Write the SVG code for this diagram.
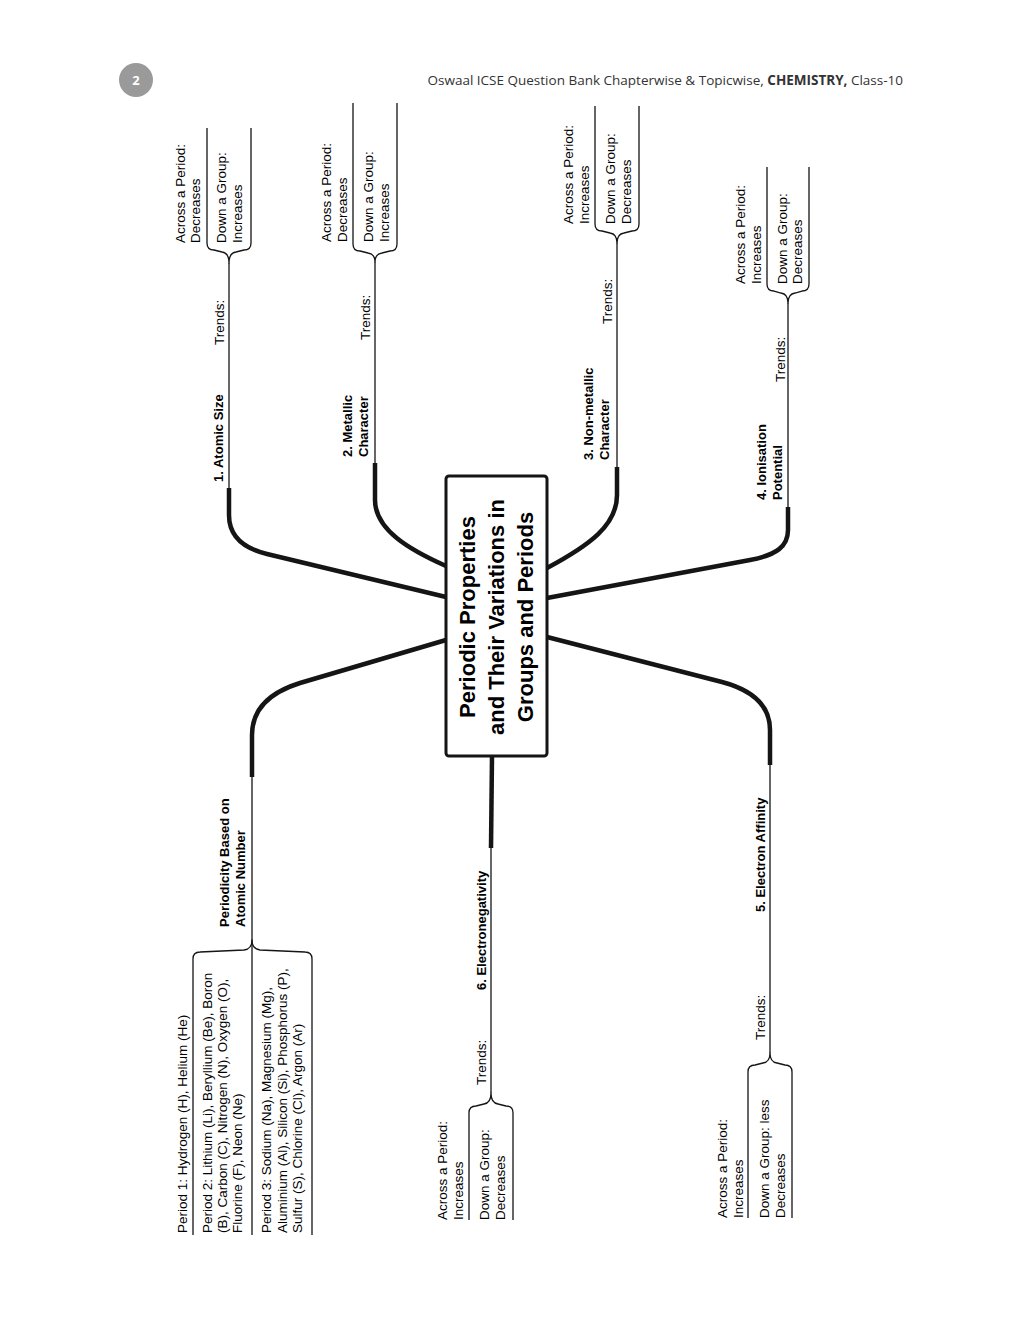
<svg xmlns="http://www.w3.org/2000/svg" width="1024" height="1325" viewBox="0 0 1024 1325">
<style>
.t{font-family:"Liberation Sans",Arial,sans-serif;font-size:13.5px;fill:#000}
.b{font-family:"Liberation Sans",Arial,sans-serif;font-size:13px;font-weight:bold;fill:#000}
.c{font-family:"Liberation Sans",Arial,sans-serif;font-size:22px;font-weight:bold;fill:#000;text-anchor:middle}
.thick{fill:none;stroke:#151515;stroke-width:4.5;stroke-linecap:butt;stroke-linejoin:round}
.thin{fill:none;stroke:#151515;stroke-width:1.3}
.br{fill:none;stroke:#151515;stroke-width:1.3;stroke-linejoin:round}
.hd{font-family:"Open Sans","Noto Sans",sans-serif;font-size:13.5px;fill:#333}
</style>
<rect width="1024" height="1325" fill="#fff"/>
<g id="header">
<circle cx="136" cy="80" r="17" fill="#9a9a9a"/>
<text x="136" y="85" font-family="Open Sans, sans-serif" font-size="13" font-weight="bold" fill="#fff" text-anchor="middle">2</text>
<text class="hd" x="903" y="85" text-anchor="end">Oswaal ICSE Question Bank Chapterwise &amp; Topicwise, <tspan font-weight="bold">CHEMISTRY,</tspan> Class-10</text>
</g>
<g id="connectors">
<path class="thick" d="M446,597 L267,554 C242,548 229,535 229,515 V488"/>
<path class="thin" d="M229,488 V263"/>
<path class="thick" d="M446,566 C410,550 375,530 375,500 V463"/>
<path class="thin" d="M375,463 V262"/>
<path class="thick" d="M547,568 C590,545 617,525 617,495 V467"/>
<path class="thin" d="M617,467 V243"/>
<path class="thick" d="M547,598 L750,560 C777,555 788,546 788,530 V507"/>
<path class="thin" d="M788,507 V303"/>
<path class="thick" d="M547,637 L722,682 C752,690 770,705 770,730 V765"/>
<path class="thin" d="M770,765 V1053"/>
<path class="thick" d="M492,756 L491,848"/>
<path class="thin" d="M491,848 V1093"/>
<path class="thick" d="M446,640 L300,683 C268,693 252,710 252,735 V777"/>
<path class="thin" d="M252,777 V1235"/>
</g>
<g id="center">
<rect x="446" y="476" width="101" height="280" rx="3" fill="#fff" stroke="#151515" stroke-width="3"/>
<text class="c" x="475" y="617" transform="rotate(-90 475 617)">Periodic Properties</text>
<text class="c" x="504" y="617" transform="rotate(-90 504 617)">and Their Variations in</text>
<text class="c" x="533" y="617" transform="rotate(-90 533 617)">Groups and Periods</text>
</g>
<g id="atomic-size">
<path class="br" d="M207,128 V243 Q207,250 214,250 L222,252 Q229,253 229,263 Q229,253 236,252 L244,250 Q251,250 251,243 V128"/>
<text class="b" x="223" y="482" transform="rotate(-90 223 482)">1. Atomic Size</text>
<text class="t" x="224" y="345" transform="rotate(-90 224 345)">Trends:</text>
<text class="t" x="185" y="243" transform="rotate(-90 185 243)">Across a Period:</text>
<text class="t" x="200" y="243" transform="rotate(-90 200 243)">Decreases</text>
<text class="t" x="226" y="243" transform="rotate(-90 226 243)">Down a Group:</text>
<text class="t" x="242" y="243" transform="rotate(-90 242 243)">Increases</text>
</g>
<g id="metallic">
<path class="br" d="M353,103 V244 Q353,251 360,251 L368,253 Q375,254 375,262 Q375,254 382,253 L390,251 Q397,251 397,244 V103"/>
<text class="b" x="352" y="457" transform="rotate(-90 352 457)">2. Metallic</text>
<text class="b" x="368" y="457" transform="rotate(-90 368 457)">Character</text>
<text class="t" x="370" y="340" transform="rotate(-90 370 340)">Trends:</text>
<text class="t" x="331" y="242" transform="rotate(-90 331 242)">Across a Period:</text>
<text class="t" x="347" y="242" transform="rotate(-90 347 242)">Decreases</text>
<text class="t" x="373" y="242" transform="rotate(-90 373 242)">Down a Group:</text>
<text class="t" x="389" y="242" transform="rotate(-90 389 242)">Increases</text>
</g>
<g id="non-metallic">
<path class="br" d="M595,106 V224 Q595,231 602,231 L610,233 Q617,234 617,243 Q617,234 624,233 L632,231 Q639,231 639,224 V106"/>
<text class="b" x="593" y="460" transform="rotate(-90 593 460)">3. Non-metallic</text>
<text class="b" x="609" y="460" transform="rotate(-90 609 460)">Character</text>
<text class="t" x="612" y="324" transform="rotate(-90 612 324)">Trends:</text>
<text class="t" x="573" y="224" transform="rotate(-90 573 224)">Across a Period:</text>
<text class="t" x="589" y="224" transform="rotate(-90 589 224)">Increases</text>
<text class="t" x="615" y="224" transform="rotate(-90 615 224)">Down a Group:</text>
<text class="t" x="631" y="224" transform="rotate(-90 631 224)">Decreases</text>
</g>
<g id="ionisation">
<path class="br" d="M767,167 V284 Q767,291 774,291 L781,293 Q788,294 788,303 Q788,294 795,293 L802,291 Q809,291 809,284 V167"/>
<text class="b" x="766" y="500" transform="rotate(-90 766 500)">4. Ionisation</text>
<text class="b" x="782" y="500" transform="rotate(-90 782 500)">Potential</text>
<text class="t" x="785" y="382" transform="rotate(-90 785 382)">Trends:</text>
<text class="t" x="745" y="284" transform="rotate(-90 745 284)">Across a Period:</text>
<text class="t" x="761" y="284" transform="rotate(-90 761 284)">Increases</text>
<text class="t" x="787" y="284" transform="rotate(-90 787 284)">Down a Group:</text>
<text class="t" x="802" y="284" transform="rotate(-90 802 284)">Decreases</text>
</g>
<g id="electron-affinity">
<path class="br" d="M748,1218 V1072 Q748,1065 755,1065 L763,1063 Q770,1062 770,1053 Q770,1062 777,1063 L785,1065 Q792,1065 792,1072 V1218"/>
<text class="b" x="765" y="912" transform="rotate(-90 765 912)">5. Electron Affinity</text>
<text class="t" x="765" y="1040" transform="rotate(-90 765 1040)">Trends:</text>
<text class="t" x="727" y="1218" transform="rotate(-90 727 1218)">Across a Period:</text>
<text class="t" x="743" y="1218" transform="rotate(-90 743 1218)">Increases</text>
<text class="t" x="769" y="1218" transform="rotate(-90 769 1218)">Down a Group: less</text>
<text class="t" x="785" y="1218" transform="rotate(-90 785 1218)">Decreases</text>
</g>
<g id="electronegativity">
<path class="br" d="M469,1220 V1113 Q469,1106 476,1106 L484,1104 Q491,1103 491,1093 Q491,1103 498,1104 L506,1106 Q513,1106 513,1113 V1220"/>
<text class="b" x="486" y="990" transform="rotate(-90 486 990)">6. Electronegativity</text>
<text class="t" x="486" y="1085" transform="rotate(-90 486 1085)">Trends:</text>
<text class="t" x="447" y="1220" transform="rotate(-90 447 1220)">Across a Period:</text>
<text class="t" x="463" y="1220" transform="rotate(-90 463 1220)">Increases</text>
<text class="t" x="489" y="1220" transform="rotate(-90 489 1220)">Down a Group:</text>
<text class="t" x="505" y="1220" transform="rotate(-90 505 1220)">Decreases</text>
</g>
<g id="periodicity">
<path class="br" d="M193,1235 V959 Q193,952 200,952 L244,950 Q252,949 252,940 Q252,949 260,950 L305,952 Q312,952 312,959 V1235"/>
<text class="b" x="229" y="927" transform="rotate(-90 229 927)">Periodicity Based on</text>
<text class="b" x="245" y="927" transform="rotate(-90 245 927)">Atomic Number</text>
<text class="t" x="187" y="1233" transform="rotate(-90 187 1233)">Period 1: Hydrogen (H), Helium (He)</text>
<text class="t" x="212" y="1233" transform="rotate(-90 212 1233)">Period 2: Lithium (Li), Beryllium (Be), Boron</text>
<text class="t" x="227" y="1233" transform="rotate(-90 227 1233)">(B), Carbon (C), Nitrogen (N), Oxygen (O),</text>
<text class="t" x="242" y="1233" transform="rotate(-90 242 1233)">Fluorine (F), Neon (Ne)</text>
<text class="t" x="271" y="1233" transform="rotate(-90 271 1233)">Period 3: Sodium (Na), Magnesium (Mg),</text>
<text class="t" x="287" y="1233" transform="rotate(-90 287 1233)">Aluminium (Al), Silicon (Si), Phosphorus (P),</text>
<text class="t" x="302" y="1233" transform="rotate(-90 302 1233)">Sulfur (S), Chlorine (Cl), Argon (Ar)</text>
</g>
</svg>
